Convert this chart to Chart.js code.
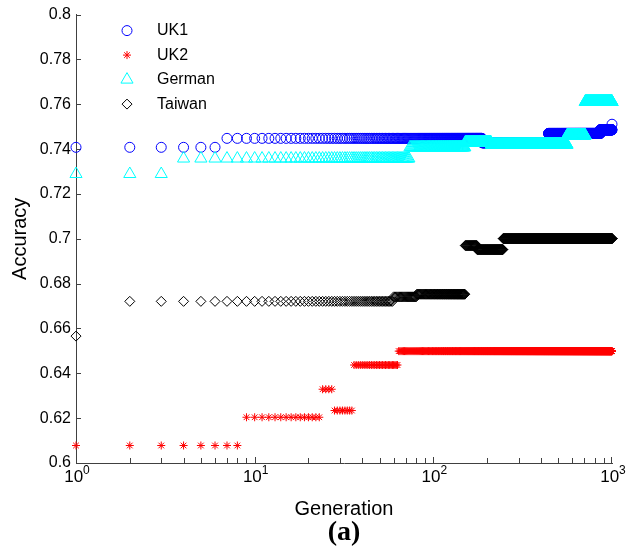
<!DOCTYPE html>
<html>
<head>
<meta charset="utf-8">
<script src="https://cdn.jsdelivr.net/npm/chart.js@4.4.0/dist/chart.umd.min.js"></script>
<style>
  html, body { margin: 0; padding: 0; background: #fff; }
</style>
</head>
<body>
<canvas id="chart" width="627" height="555"></canvas>
<script>
// accuracy per generation: value holds from start gen until next start
const generationCount = 1000;
const seriesNames = ["UK1", "UK2", "German", "Taiwan"];

const uk1Start = [1, 7, 188, 441, 860, 1000];
const uk1Value = [0.7408, 0.7448, 0.7428, 0.7470, 0.7486, 0.7511];

const uk2Start = [1, 9, 24, 28, 36, 64];
const uk2Value = [0.6078, 0.6204, 0.6329, 0.6234, 0.6437, 0.6499];

const germanStart = [1, 4, 74, 151, 211, 561, 709];
const germanValue = [0.7289, 0.7358, 0.7408, 0.7430, 0.7420, 0.7461, 0.7611];

const taiwanStart = [1, 2, 60, 81, 151, 176, 246];
const taiwanValue = [0.6566, 0.6721, 0.6741, 0.6753, 0.6970, 0.6952, 0.7001];

const xTickValues = [1, 10, 100, 1000];
const xTickExponents = ["0", "1", "2", "3"];
const yTickValues = [0.6, 0.62, 0.64, 0.66, 0.68, 0.7, 0.72, 0.74, 0.76, 0.78, 0.8];
const yTickLabels = ["0.6", "0.62", "0.64", "0.66", "0.68", "0.7", "0.72", "0.74", "0.76", "0.78", "0.8"];

const FONT = "'Liberation Sans', Arial, Helvetica, sans-serif";
const AXIS_COLOR = "#404040";

function expandSteps(starts, values) {
  const pts = [];
  let k = 0;
  for (let g = 1; g <= generationCount; g++) {
    while (k + 1 < starts.length && g >= starts[k + 1]) k++;
    pts.push({ x: g, y: values[k] });
  }
  return pts;
}

const markers = [
  { style: "circle", radius: 5, color: "#0000ff" },
  { style: "star", radius: 4, color: "#ff0000" },
  { style: "triangle", radius: 7, color: "#00ffff" },
  { style: "rectRot", radius: 5, color: "#000000" }
];

const seriesData = [
  expandSteps(uk1Start, uk1Value),
  expandSteps(uk2Start, uk2Value),
  expandSteps(germanStart, germanValue),
  expandSteps(taiwanStart, taiwanValue)
];

// ticks pointing inward, superscript decade labels, legend in the corner, panel label
const matlabLook = {
  id: "matlabLook",
  beforeDatasetsDraw(chart) {
    const { ctx, chartArea } = chart;
    const xs = chart.scales.x, ys = chart.scales.y;
    ctx.save();
    ctx.strokeStyle = AXIS_COLOR;
    ctx.lineWidth = 1;
    ctx.beginPath();
    yTickValues.forEach(v => {
      const py = Math.round(ys.getPixelForValue(v)) + 0.5;
      ctx.moveTo(chartArea.left, py);
      ctx.lineTo(chartArea.left + 5, py);
    });
    for (let d = 1; d <= 100; d *= 10) {
      for (let k = 1; k <= 9; k++) {
        const px = Math.round(xs.getPixelForValue(k * d)) + 0.5;
        ctx.moveTo(px, chartArea.bottom);
        ctx.lineTo(px, chartArea.bottom - (k === 1 ? 6 : 5));
      }
    }
    const pEnd = Math.round(xs.getPixelForValue(1000)) - 0.5;
    ctx.moveTo(pEnd, chartArea.bottom);
    ctx.lineTo(pEnd, chartArea.bottom - 6);
    ctx.stroke();
    ctx.restore();
  },
  afterDraw(chart) {
    const { ctx, chartArea } = chart;
    const xs = chart.scales.x;
    ctx.save();
    ctx.fillStyle = "#000";
    ctx.textBaseline = "alphabetic";
    ctx.textAlign = "left";
    xTickValues.forEach((v, i) => {
      const px = xs.getPixelForValue(v);
      ctx.font = "17px " + FONT;
      const w1 = ctx.measureText("10").width;
      ctx.font = "12px " + FONT;
      const w2 = ctx.measureText(xTickExponents[i]).width;
      const x0 = px - (w1 + w2) / 2 + 1;
      ctx.font = "17px " + FONT;
      ctx.fillText("10", x0, chartArea.bottom + 19);
      ctx.font = "12px " + FONT;
      ctx.fillText(xTickExponents[i], x0 + w1, chartArea.bottom + 10.5);
    });

    // legend
    ctx.textBaseline = "middle";
    ctx.font = "16px " + FONT;
    seriesNames.forEach((name, i) => {
      const m = markers[i];
      const y = chartArea.top + 16 + i * 24.5;
      const x = chartArea.left + 51;
      ctx.strokeStyle = m.color;
      ctx.fillStyle = "rgba(0,0,0,0)";
      ctx.lineWidth = 1;
      Chart.helpers.drawPoint(ctx, { pointStyle: m.style, radius: m.radius, rotation: 0, borderWidth: 1 }, x, y);
      ctx.fillStyle = "#000";
      ctx.fillText(name, chartArea.left + 81, y);
    });

    ctx.font = "bold 28px 'Liberation Serif', 'Times New Roman', serif";
    ctx.textAlign = "center";
    ctx.fillText("(a)", (chartArea.left + chartArea.right) / 2, 533);
    ctx.restore();
  }
};

Chart.defaults.font.family = FONT;
Chart.defaults.color = "#000";

new Chart(document.getElementById("chart"), {
  type: "scatter",
  data: {
    datasets: seriesNames.map((name, i) => ({
      label: name,
      data: seriesData[i],
      showLine: false,
      pointStyle: markers[i].style,
      pointRadius: markers[i].radius,
      pointBorderWidth: 1,
      borderColor: markers[i].color,
      backgroundColor: "rgba(0,0,0,0)",
      order: seriesNames.length - i, // later series drawn on top, like matlab
      clip: false
    }))
  },
  options: {
    responsive: false,
    animation: false,
    events: [],
    layout: { padding: { left: 8, top: 13, right: 15, bottom: 34 } },
    plugins: {
      legend: { display: false },
      tooltip: { enabled: false }
    },
    scales: {
      x: {
        type: "logarithmic",
        min: 1,
        max: 1000,
        grid: { display: false, drawTicks: false },
        border: { display: true, color: AXIS_COLOR, width: 1 },
        ticks: { display: false },
        title: { display: true, text: "Generation", font: { size: 20 }, color: "#000", padding: 0 },
        afterFit: s => { s.height = 555 - 34 - 463; }
      },
      y: {
        min: 0.6,
        max: 0.8,
        grid: { display: false, drawTicks: false },
        border: { display: true, color: AXIS_COLOR, width: 1 },
        afterBuildTicks: s => { s.ticks = yTickValues.map(v => ({ value: v })); },
        ticks: {
          padding: 5,
          color: "#000",
          font: { size: 16 },
          callback: (v, i) => yTickLabels[i]
        },
        title: { display: true, text: "Accuracy", font: { size: 20 }, color: "#000", padding: 0 },
        afterFit: s => { s.width = 68; }
      }
    }
  },
  plugins: [matlabLook]
});
</script>
</body>
</html>
